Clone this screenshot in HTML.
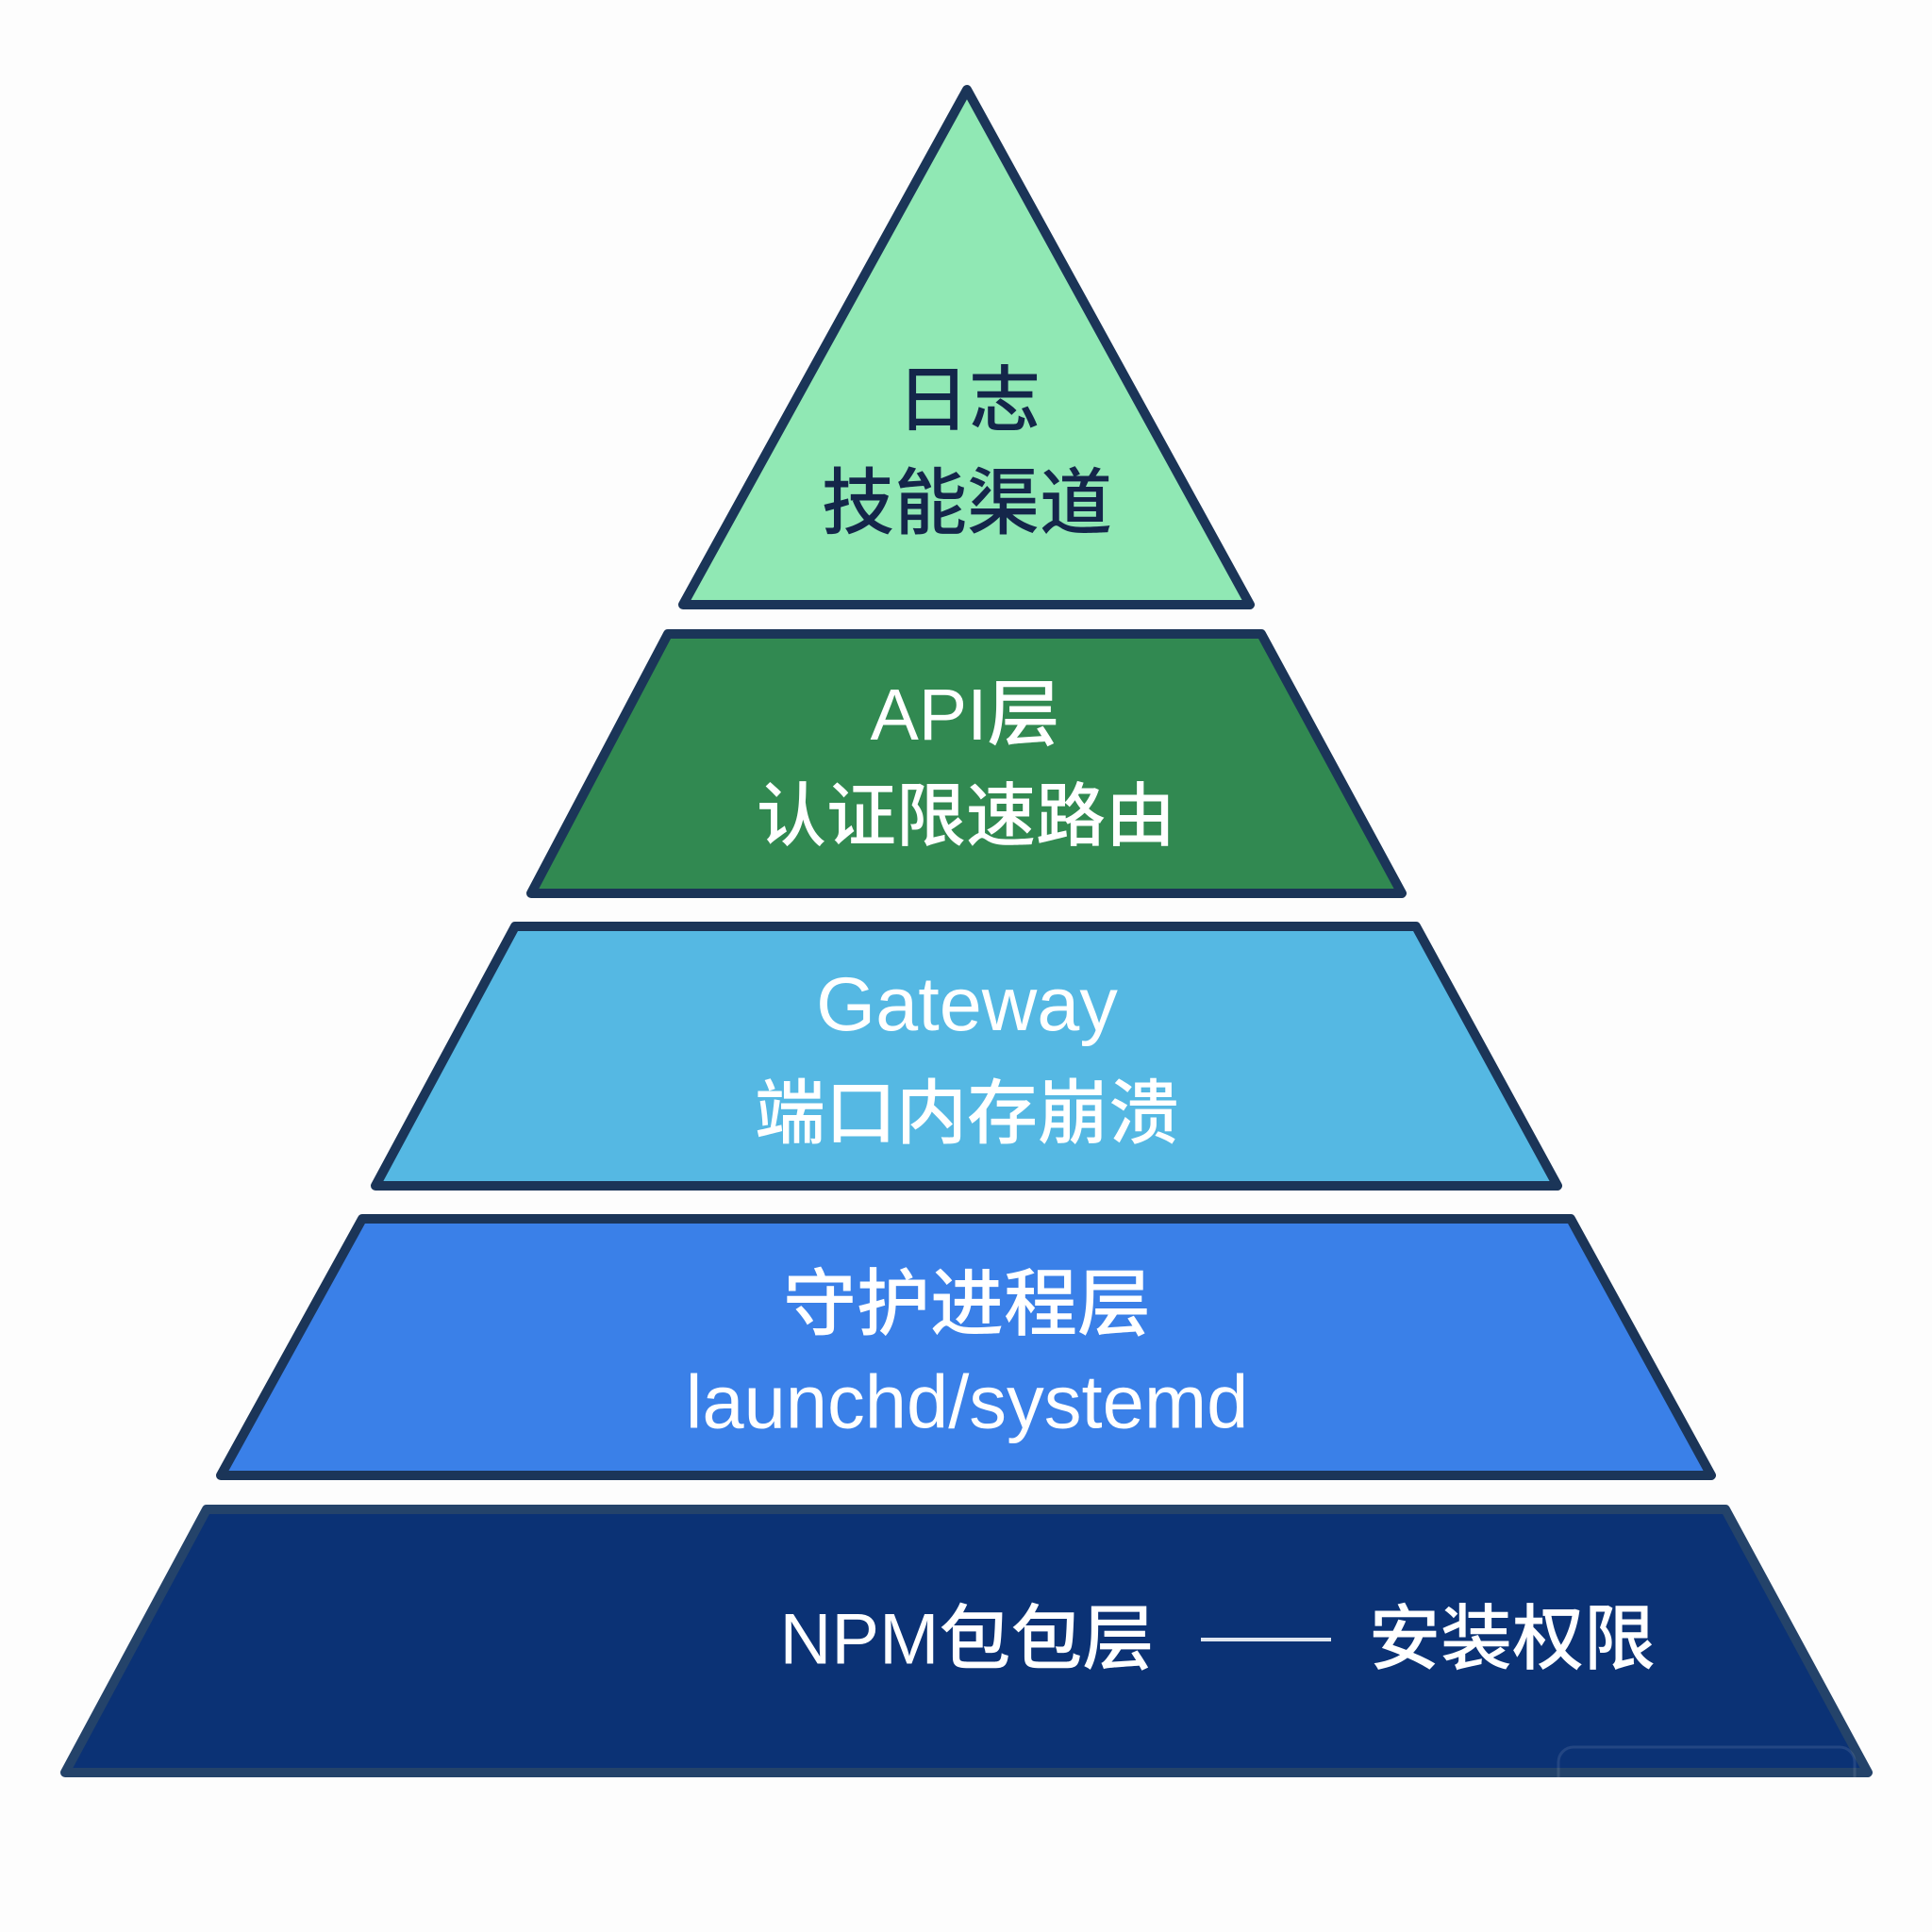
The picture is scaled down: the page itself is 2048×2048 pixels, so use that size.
<!DOCTYPE html>
<html>
<head>
<meta charset="utf-8">
<style>
  html, body { margin: 0; padding: 0; background: #fdfdfd; }
  svg { display: block; }
  text { font-family: "Liberation Sans", "Noto Sans CJK SC", sans-serif; }
</style>
</head>
<body>
<svg width="2048" height="2048" viewBox="0 0 2048 2048" xmlns="http://www.w3.org/2000/svg">
  <rect x="0" y="0" width="2048" height="2048" fill="#fdfdfd"/>

  <!-- Tier 1: triangle -->
  <polygon points="1025,95 1325,641 724,641" fill="#90e8b4" stroke="#1b3558" stroke-width="10" stroke-linejoin="round"/>
  <!-- Tier 2 -->
  <polygon points="708,672 1337,672 1486,947 563,947" fill="#318951" stroke="#1b3558" stroke-width="10" stroke-linejoin="round"/>
  <!-- Tier 3 -->
  <polygon points="546,982 1501,982 1651,1257 398,1257" fill="#55b8e3" stroke="#1b3558" stroke-width="10" stroke-linejoin="round"/>
  <!-- Tier 4 -->
  <polygon points="384,1292 1665,1292 1814,1564 234,1564" fill="#3a80e8" stroke="#1b3558" stroke-width="10" stroke-linejoin="round"/>
  <!-- Tier 5 -->
  <polygon points="219,1600 1829,1600 1980,1879 69,1879" fill="#0b3275" stroke="#24436a" stroke-width="10" stroke-linejoin="round"/>

  <!-- faint watermark box -->
  <rect x="1652" y="1852" width="314" height="60" rx="16" ry="16" fill="none" stroke="#ffffff" stroke-opacity="0.1" stroke-width="3"/>

  <!-- Tier 1 text -->
  <text x="1027" y="425" font-size="76" fill="#14264a" text-anchor="middle" dominant-baseline="central" font-weight="500">日志</text>
  <text x="1025" y="534" font-size="77" fill="#14264a" text-anchor="middle" dominant-baseline="central" font-weight="500">技能渠道</text>

  <!-- Tier 2 text -->
  <text x="1023" y="758" font-size="77" fill="#ffffff" text-anchor="middle" dominant-baseline="central" font-weight="500">API层</text>
  <text x="1024" y="865" font-size="74" fill="#ffffff" text-anchor="middle" dominant-baseline="central" font-weight="500">认证限速路由</text>

  <!-- Tier 3 text -->
  <text x="1025" y="1065" font-size="81" fill="#ffffff" text-anchor="middle" dominant-baseline="central" font-weight="500">Gateway</text>
  <text x="1025" y="1180" font-size="75" fill="#ffffff" text-anchor="middle" dominant-baseline="central" font-weight="500">端口内存崩溃</text>

  <!-- Tier 4 text -->
  <text x="1025" y="1382" font-size="78" fill="#ffffff" text-anchor="middle" dominant-baseline="central" font-weight="500">守护进程层</text>
  <text x="1025" y="1486" font-size="79.5" fill="#ffffff" text-anchor="middle" dominant-baseline="central" font-weight="500">launchd/systemd</text>

  <!-- Tier 5 text -->
  <text x="1025" y="1738" font-size="76" fill="#ffffff" text-anchor="middle" dominant-baseline="central" font-weight="500">NPM包包层</text>
  <line x1="1273" y1="1738" x2="1411" y2="1738" stroke="#dfe6f0" stroke-width="4"/>
  <text x="1603" y="1738" font-size="76" fill="#ffffff" text-anchor="middle" dominant-baseline="central" font-weight="500">安装权限</text>
</svg>
</body>
</html>
